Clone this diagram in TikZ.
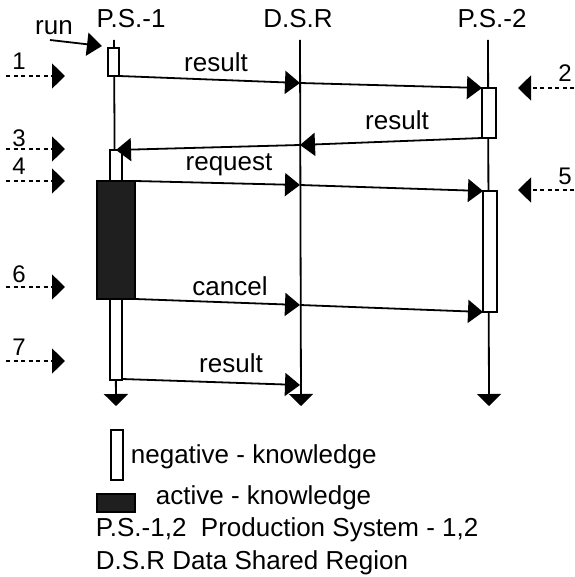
\documentclass[tikz,border=0pt]{standalone}
\usepackage{fontspec}
\setmainfont{Liberation Sans}
\usetikzlibrary{arrows.meta}
\begin{document}
\begin{tikzpicture}[x=1pt,y=-1pt,
  line width=1.8pt,
  txt/.style={inner sep=0pt,anchor=base,font=\fontsize{26}{29}\selectfont},
  num/.style={inner sep=0pt,anchor=base,font=\fontsize{24}{27}\selectfont},
  life/.style={-{Triangle[length=12pt,width=24pt]}},
  msg/.style={-{Triangle[length=15pt,width=23pt]}},
  stepmarker/.style={line width=1.5pt,dash pattern=on 4pt off 3.5pt,-{Triangle[length=13pt,width=25pt]}},
  negbox/.style={draw,fill=white,line width=1.5pt},
  actbox/.style={draw,fill=black!88,line width=1.2pt}
]
\useasboundingbox (0,0) rectangle (574,577);

% lifeline headings
\node[txt] (h1) at (131,28) {P.S.-1};
\node[txt] (h2) at (298,28) {D.S.R};
\node[txt] (h3) at (492,28) {P.S.-2};

% lifelines
\coordinate (l1t) at (114,40);  \coordinate (l1b) at (116,406);
\coordinate (l2t) at (300,40);  \coordinate (l2b) at (301,406);
\coordinate (l3t) at (488,40);  \coordinate (l3b) at (489,406);
\draw[life] (l1t) -- (l1b);
\draw[life] (l2t) -- (l2b);
\draw[life] (l3t) -- (l3b);

% activation bars of P.S.-1
\draw[negbox] (108,48) rectangle (119,76);
\draw[negbox] (110,150) rectangle (122,380);
\draw[actbox] (97,181) rectangle (135,299);
% activation bars of P.S.-2
\draw[negbox] (482,88) rectangle (496,138);
\draw[negbox] (483,191) rectangle (497,312);

% run trigger
\node[txt] (run) at (54,35) {run};
\coordinate (runs) at (50,40);
\coordinate (rune) at (102,46);
\draw[msg] (runs) -- (rune);

% message end points
\coordinate (a1) at (119,76);  \coordinate (d1) at (300,83);  \coordinate (b1) at (482,88);
\coordinate (b2) at (482,138); \coordinate (d2) at (300,145); \coordinate (a2) at (116,150);
\coordinate (a3) at (135,181); \coordinate (d3) at (300,185); \coordinate (b3) at (483,191);
\coordinate (a4) at (135,299); \coordinate (d4) at (300,305); \coordinate (b4) at (483,312);
\coordinate (a5) at (122,379); \coordinate (d5) at (300,385);

\draw[msg] (a1) -- (d1);
\draw[msg] (d1) -- (b1);
\draw[msg] (b2) -- (d2);
\draw[msg] (d2) -- (a2);
\draw[msg] (a3) -- (d3);
\draw[msg] (d3) -- (b3);
\draw[msg] (a4) -- (d4);
\draw[msg] (d4) -- (b4);
\draw[msg] (a5) -- (d5);

% message labels
\node[txt] (t1) at (216,72) {result};
\node[txt] (t2) at (397,130) {result};
\node[txt] (t3) at (229,171) {request};
\node[txt] (t4) at (230,295) {cancel};
\node[txt] (t5) at (231,372) {result};

% step markers on the left
\foreach \n/\y/\ly in {1/76/70, 3/149/147, 4/181/175, 6/287/282, 7/361/355}{
  \node[num] (n\n) at (19,\ly) {\n};
  \coordinate (s\n) at (6,\y);
  \coordinate (e\n) at (65,\y);
  \draw[stepmarker] (s\n) -- (e\n);
}
% step markers on the right
\foreach \n/\y/\ly in {2/88/82, 5/190/185}{
  \node[num] (n\n) at (565,\ly) {\n};
  \coordinate (s\n) at (574,\y);
  \coordinate (e\n) at (518,\y);
  \draw[stepmarker] (s\n) -- (e\n);
}

% legend
\draw[negbox] (111,430) rectangle (123,480);
\node[txt,anchor=base west] (lg1) at (130,463) {negative - knowledge};
\draw[actbox] (97,494) rectangle (135,512);
\node[txt,anchor=base west] (lg2) at (155,504) {active - knowledge};
\node[txt,anchor=base west] (lg3) at (95,536) {P.S.-1,2\ \ Production System - 1,2};
\node[txt,anchor=base west] (lg4) at (95,569) {D.S.R Data Shared Region};
\end{tikzpicture}
\end{document}
